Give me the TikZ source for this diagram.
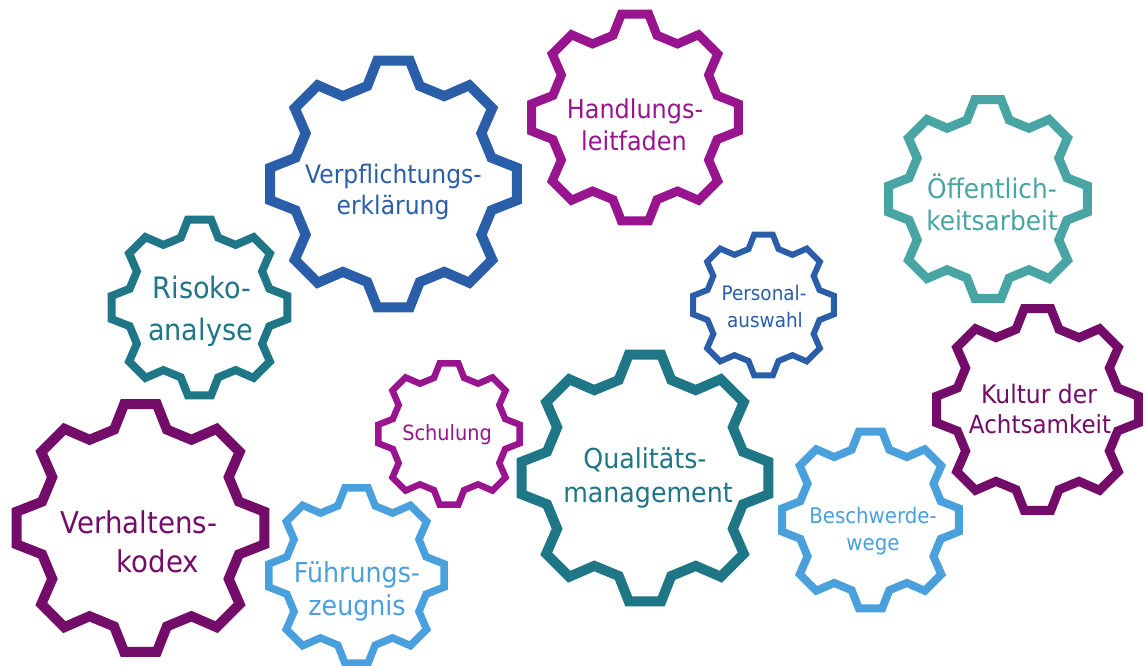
\documentclass[tikz,border=0pt]{standalone}
\usepackage{fontspec}
\setmainfont{DejaVu Sans}[FakeStretch=0.92]
\definecolor{cBlue}{RGB}{43,94,168}
\definecolor{cMag}{RGB}{153,20,143}
\definecolor{cPur}{RGB}{116,12,106}
\definecolor{cTeal}{RGB}{30,118,135}
\definecolor{cLTeal}{RGB}{73,164,164}
\definecolor{cLBlue}{RGB}{74,160,220}
\tikzset{
  gearline/.style={line join=miter, miter limit=10},
  lbl/.style={anchor=base, inner sep=0pt, font=\fontsize{#1}{#1}\selectfont},
}
\newcommand\drawgear[6]{% name, cx, cy, outer R, line width, colour
  \coordinate (#1) at (#2,#3);
  \pgfmathsetmacro\gR{(#4-#5/2)/0.992}
  \pgfmathsetmacro\gr{0.815*\gR}
  \draw[gearline, line width=#5pt, draw=#6]
    ([shift={(#1)}]-15:\gr)
    \foreach \k in {0,...,6}{
      -- ([shift={(#1)}]{\k*45-7.5}:\gR)
      -- ([shift={(#1)}]{\k*45+7.5}:\gR)
      -- ([shift={(#1)}]{\k*45+15}:\gr)
      -- ([shift={(#1)}]{\k*45+30}:\gr)
    }
    -- ([shift={(#1)}]307.5:\gR)
    -- ([shift={(#1)}]322.5:\gR)
    -- ([shift={(#1)}]330:\gr)
    -- cycle;
}
\begin{document}
\begin{tikzpicture}[x=1pt,y=-1pt]
\useasboundingbox[fill=white] (0,0) rectangle (1145,666);

\drawgear{gHand}{635}{117.5}{108}{9}{cMag}
\drawgear{gVerp}{393.5}{184}{128.5}{10}{cBlue}
\drawgear{gOeff}{988}{199}{104}{9}{cLTeal}
\drawgear{gRisk}{199.5}{307.5}{92}{8}{cTeal}
\drawgear{gPers}{763.5}{305}{73.5}{6}{cBlue}
\drawgear{gKult}{1037.5}{409.5}{105.5}{9}{cPur}
\drawgear{gSchu}{449}{434}{74}{6.5}{cMag}
\drawgear{gQual}{645}{478}{128.5}{10}{cTeal}
\drawgear{gVerh}{140.5}{528}{129}{10}{cPur}
\drawgear{gFuehr}{356.5}{575.5}{91.5}{7.5}{cLBlue}
\drawgear{gBesch}{870.5}{520}{92.5}{8}{cLBlue}

\node[lbl=26, text=cMag] (tHand1) at (635,118) {Handlungs-};
\node[lbl=26, text=cMag] (tHand2) at (634,150) {leitfaden};
\node[lbl=25.5, text=cBlue] (tVerp1) at (393.5,183) {Verpflichtungs-};
\node[lbl=25.5, text=cBlue] (tVerp2) at (393,214) {erklärung};
\node[lbl=27, text=cLTeal] (tOeff1) at (992,198) {Öffentlich-};
\node[lbl=27, text=cLTeal] (tOeff2) at (992,230) {keitsarbeit};
\node[lbl=29.5, text=cTeal] (tRisk1) at (202,298) {Risoko-};
\node[lbl=29.5, text=cTeal] (tRisk2) at (200.5,340) {analyse};
\node[lbl=20, text=cBlue] (tPers1) at (764,300) {Personal-};
\node[lbl=20, text=cBlue] (tPers2) at (765,327) {auswahl};
\node[lbl=25.5, text=cPur] (tKult1) at (1039,403) {Kultur der};
\node[lbl=25, text=cPur] (tKult2) at (1040,433) {Achtsamkeit};
\node[lbl=21, text=cMag] (tSchu) at (447,440) {Schulung};
\node[lbl=27.5, text=cTeal] (tQual1) at (645,468) {Qualitäts-};
\node[lbl=27.5, text=cTeal] (tQual2) at (648,502) {management};
\node[lbl=30, text=cPur] (tVerh1) at (139,533) {Verhaltens-};
\node[lbl=30, text=cPur] (tVerh2) at (158,572) {kodex};
\node[lbl=27.5, text=cLBlue] (tFuehr1) at (357,582) {Führungs-};
\node[lbl=27.5, text=cLBlue] (tFuehr2) at (357,615) {zeugnis};
\node[lbl=21.5, text=cLBlue] (tBesch1) at (873,523) {Beschwerde-};
\node[lbl=21.5, text=cLBlue] (tBesch2) at (873,550) {wege};
\end{tikzpicture}
\end{document}
